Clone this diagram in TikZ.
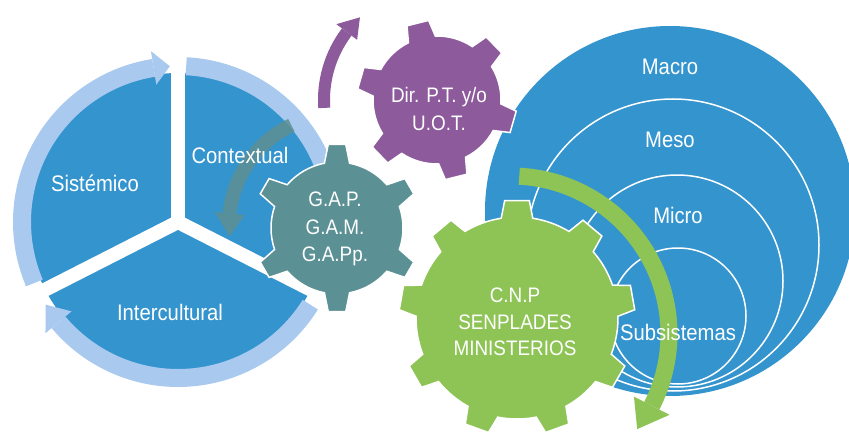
\documentclass[tikz,border=0pt]{standalone}
\usepackage{fontspec}
\setmainfont{Liberation Sans}[FakeStretch=0.9]
\definecolor{pieblue}{HTML}{3494CE}
\definecolor{ringblue}{HTML}{A9C9EF}
\definecolor{gpurple}{HTML}{8D5A9C}
\definecolor{gteal}{HTML}{5B9094}
\definecolor{ggreen}{HTML}{8DC455}
\definecolor{tarrow}{HTML}{5E8F93}
% gear: #1 centre, #2 teeth, #3 first tooth angle, #4 root r, #5 tip r, #6 half base angle, #7 half tip angle, #8 style
\newcommand\gearshape[8]{%
 \pgfmathsetmacro\gstep{360/#2}%
 \pgfmathtruncatemacro\glast{#2-1}%
 \path[#8,shift={#1}] ({#3-#6}:#4)
   \foreach \k in {0,...,\glast}{
     -- ({#3+\k*\gstep-#6}:#4) -- ({#3+\k*\gstep-#7}:#5) -- ({#3+\k*\gstep+#7}:#5) -- ({#3+\k*\gstep+#6}:#4)
     arc[start angle={#3+\k*\gstep+#6}, end angle={#3+(\k+1)*\gstep-#6}, radius=#4]
   } -- cycle;}
% curved arrow: #1 centre, #2 radius, #3 band width, #4 head half width, #5 start, #6 head base, #7 tip, #8 colour
\newcommand\arcarrow[8]{%
 \begin{scope}[shift={#1}]
  \draw[line width=#3, color=#8] (#5:#2) arc[start angle=#5, end angle=#6, radius=#2];
  \fill[#8] (#6:{#2-#4}) -- (#7:#2) -- (#6:{#2+#4}) -- cycle;
 \end{scope}}
\begin{document}
\begin{tikzpicture}[x=1pt,y=1pt,
  lbl/.style={text=white, font=\fontsize{22.5}{26}\selectfont, inner sep=0pt},
  glbl/.style={text=white, font=\fontsize{21}{27.5}\selectfont, align=center, inner sep=0pt},
  gearstyle/.style={fill=#1, draw=white, line width=1.5pt},
  nest/.style={fill=pieblue, draw=white, line width=1.5pt}]
\useasboundingbox (0,0) rectangle (849,432);

% centres
\coordinate (pie) at (178,210);
\coordinate (tealc) at (337,204);
\coordinate (tealarr) at (340,207);
\coordinate (purc) at (437,332);
\coordinate (grc) at (517,114);
\coordinate (grarr) at (511,98);

% nested circles
\fill[pieblue] (670,221) circle[radius=185];
\path[nest] (673,187) circle[radius=146];
\path[nest] (677,151) circle[radius=106];
\path[nest] (678,116) circle[radius=68];

% pie
\fill[pieblue] (pie) circle[radius=149];
\foreach \a in {90,207,333} \draw[white, line width=14pt] (pie) -- ++(\a:168);
\arcarrow{(pie)}{156}{18pt}{17}{203}{99}{93}{ringblue}
\arcarrow{(pie)}{156}{18pt}{17}{87}{-18}{-24}{ringblue}
\arcarrow{(pie)}{156}{18pt}{17}{328}{220}{212}{ringblue}

% teal arrow
\begin{scope}[transparency group, opacity=0.85]
\arcarrow{(tealarr)}{111}{14pt}{15}{116}{174}{186}{tarrow}
\end{scope}

\node[lbl] (sist) at (95,249) {Sistémico};
\node[lbl] (cont) at (240,277) {Contextual};
\node[lbl] (inter) at (170,120) {Intercultural};

% teal gear
\gearshape{(tealc)}{6}{90}{66}{84}{11}{6}{gearstyle=gteal}
\node[glbl] (gap) at (335,203) {G.A.P.\\G.A.M.\\G.A.Pp.};

% purple arrow and gear
\arcarrow{(purc)}{113}{12pt}{13}{184}{143}{133}{gpurple}
\gearshape{(purc)}{6}{104}{64}{80}{12.5}{8}{gearstyle=gpurple}
\node[glbl] (dir) at (439,323) {Dir. P.T. y/o\\U.O.T.};

% green gear and arrow
\gearshape{(grc)}{9}{90}{101}{118}{9}{6}{gearstyle=ggreen}
\node[glbl, font=\fontsize{21}{26.5}\selectfont] (cnp) at (515,110) {C.N.P\\SENPLADES\\MINISTERIOS};
\arcarrow{(grarr)}{158}{17pt}{20}{87}{-27}{-37}{ggreen}

% nested labels
\node[lbl] (macro) at (670,365) {Macro};
\node[lbl] (meso) at (670,292) {Meso};
\node[lbl] (micro) at (678,217) {Micro};
\node[lbl] (sub) at (678,100) {Subsistemas};
\end{tikzpicture}
\end{document}
